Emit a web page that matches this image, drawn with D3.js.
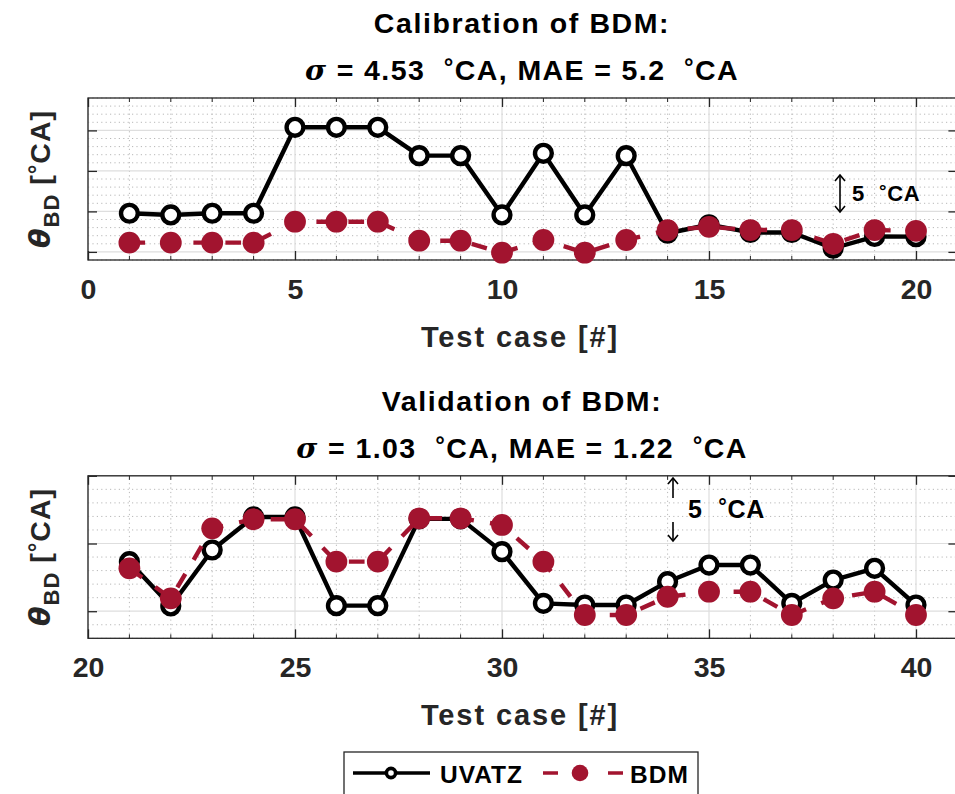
<!DOCTYPE html>
<html>
<head>
<meta charset="utf-8">
<script src="https://cdn.jsdelivr.net/npm/d3@7/dist/d3.min.js"></script>
<style>
body{margin:0;background:#fff}
svg{display:block;font-family:"Liberation Sans",Arial,Helvetica,sans-serif;font-weight:bold}
</style>
</head>
<body>
<svg id="chart" width="955" height="794"></svg>
<script>
// test cases
const casesCal = [1,2,3,4,5,6,7,8,9,10,11,12,13,14,15,16,17,18,19,20];
const casesVal = [21,22,23,24,25,26,27,28,29,30,31,32,33,34,35,36,37,38,39,40];
// burn duration, deg CA (no absolute labels on y)
const uvatzCal = [9.77,9.56,9.77,9.77,20.38,20.38,20.38,16.88,16.88,9.56,17.17,9.56,16.88,7.3,8.35,7.4,7.4,5.45,6.9,6.88];
const bdmCal   = [6.14,6.14,6.14,6.14,8.73,8.73,8.73,6.38,6.38,4.9,6.47,4.9,6.47,7.67,8.1,7.7,7.7,6.0,7.7,7.6];
const uvatzVal = [8.66,5.39,9.52,11.96,11.96,5.41,5.41,11.82,11.82,9.4,5.58,5.46,5.46,7.18,8.41,8.41,5.58,7.3,8.17,5.46];
const bdmVal   = [8.17,5.95,11.12,11.79,11.79,8.66,8.66,11.86,11.86,11.37,8.66,4.72,4.72,6.07,6.44,6.44,4.72,5.95,6.44,4.72];
// axes ticks
const xTicksCal = [0,5,10,15,20];
const xTicksVal = [20,25,30,35,40];
const yTicksCal = [5,10,15,20];
const yTicksVal = [5,10,15];
const seriesNames = ["UVATZ","BDM"];

const RED = "#a2142f", AX = "#262626";
const svg = d3.select("#chart");

function drawPanel(cfg){
  const g = svg.append("g");
  const x = d3.scaleLinear().domain(cfg.xDomain).range([88, 957.4]);
  const y = d3.scaleLinear().domain(cfg.yDomain).range([cfg.bottom, cfg.top]);
  const [x0,x1] = x.range(), [y0,y1] = y.range();

  // minor grid (dotted), every unit
  const xMinor = d3.range(Math.ceil(cfg.xDomain[0]), cfg.xDomain[1]+0.01, 1).filter(v => !cfg.xTicks.includes(v));
  const yMinor = d3.range(Math.ceil(cfg.yDomain[0]), cfg.yDomain[1]+0.01, 1).filter(v => !cfg.yTicks.includes(v));
  g.append("g").selectAll("line").data(xMinor).enter().append("line")
    .attr("x1", d=>x(d)).attr("x2", d=>x(d)).attr("y1", y0).attr("y2", y1)
    .attr("stroke", "#b8b8b8").attr("stroke-width", 1).attr("stroke-dasharray", "1.2 3.2");
  g.append("g").selectAll("line").data(yMinor).enter().append("line")
    .attr("x1", x0).attr("x2", x1).attr("y1", d=>y(d)).attr("y2", d=>y(d))
    .attr("stroke", "#b8b8b8").attr("stroke-width", 1).attr("stroke-dasharray", "1.2 3.2");
  // major grid
  g.append("g").selectAll("line").data(cfg.xTicks).enter().append("line")
    .attr("x1", d=>x(d)).attr("x2", d=>x(d)).attr("y1", y0).attr("y2", y1)
    .attr("stroke", "#dedede").attr("stroke-width", 1.2);
  g.append("g").selectAll("line").data(cfg.yTicks).enter().append("line")
    .attr("x1", x0).attr("x2", x1).attr("y1", d=>y(d)).attr("y2", d=>y(d))
    .attr("stroke", "#dedede").attr("stroke-width", 1.2);

  // box
  g.append("rect").attr("x", x0).attr("y", y1).attr("width", x1-x0).attr("height", y0-y1)
    .attr("fill", "none").attr("stroke", AX).attr("stroke-width", 1.3);

  // x axis (bottom) with inward ticks, plus mirrored top ticks
  const xAxis = d3.axisBottom(x).tickValues(cfg.xTicks).tickSizeInner(-9).tickSizeOuter(0).tickPadding(18);
  const ax = g.append("g").attr("transform", `translate(0,${y0})`).call(xAxis);
  ax.select(".domain").remove();
  ax.selectAll(".tick line").attr("stroke", AX).attr("stroke-width", 1.3);
  ax.selectAll(".tick text").attr("fill", AX).attr("font-size", 28.5).attr("font-weight", "bold")
    .attr("font-family", "Liberation Sans, Arial, sans-serif").attr("dy", "0.72em");
  const axTop = g.append("g").attr("transform", `translate(0,${y1})`)
    .call(d3.axisTop(x).tickValues(cfg.xTicks).tickSizeInner(-9).tickSizeOuter(0).tickFormat(""));
  axTop.select(".domain").remove();
  axTop.selectAll(".tick line").attr("stroke", AX).attr("stroke-width", 1.3);
  // minor x ticks
  [y0, y1].forEach((yy, i) => {
    g.append("g").selectAll("line").data(xMinor).enter().append("line")
      .attr("x1", d=>x(d)).attr("x2", d=>x(d)).attr("y1", yy).attr("y2", i ? yy+4 : yy-4)
      .attr("stroke", AX).attr("stroke-width", 1);
  });
  // y ticks left / right, no labels
  const ayl = g.append("g").attr("transform", `translate(${x0},0)`)
    .call(d3.axisLeft(y).tickValues(cfg.yTicks).tickSizeInner(-9).tickSizeOuter(0).tickFormat(""));
  const ayr = g.append("g").attr("transform", `translate(${x1},0)`)
    .call(d3.axisRight(y).tickValues(cfg.yTicks).tickSizeInner(-9).tickSizeOuter(0).tickFormat(""));
  [ayl, ayr].forEach(a => { a.select(".domain").remove(); a.selectAll(".tick line").attr("stroke", AX).attr("stroke-width", 1.3); });

  // data lines
  const line = d3.line().x(d=>x(d[0])).y(d=>y(d[1]));
  const uv = cfg.cases.map((c,i)=>[c, cfg.uvatz[i]]);
  const bd = cfg.cases.map((c,i)=>[c, cfg.bdm[i]]);
  g.append("path").datum(uv).attr("d", line).attr("fill", "none")
    .attr("stroke", "#000").attr("stroke-width", 4.4).attr("stroke-linejoin", "round");
  g.append("g").selectAll("circle").data(uv).enter().append("circle")
    .attr("cx", d=>x(d[0])).attr("cy", d=>y(d[1])).attr("r", 8.4)
    .attr("fill", "#fff").attr("stroke", "#000").attr("stroke-width", 4.4);
  g.append("path").datum(bd).attr("d", line).attr("fill", "none")
    .attr("stroke", RED).attr("stroke-width", 4.4).attr("stroke-dasharray", "15.7 16.3");
  g.append("g").selectAll("circle").data(bd).enter().append("circle")
    .attr("cx", d=>x(d[0])).attr("cy", d=>y(d[1])).attr("r", 10.9).attr("fill", RED);

  // titles
  const tc = 522;
  g.append("text").attr("x", tc).attr("y", cfg.top - 65).attr("text-anchor", "middle")
    .attr("font-size", 28.5).attr("letter-spacing", 1.6).attr("fill", "#000").text(cfg.title);
  const t2 = g.append("text").attr("x", tc).attr("y", cfg.top - 18).attr("text-anchor", "middle")
    .attr("font-size", 28.5).attr("letter-spacing", 1.4).attr("fill", "#000").attr("xml:space", "preserve");
  t2.append("tspan").attr("font-style", "italic").attr("font-family", "DejaVu Serif, serif").text("σ");
  t2.append("tspan").text(` = ${cfg.sigma}  `);
  t2.append("tspan").attr("dy", -5).attr("font-size", 24).text("°");
  t2.append("tspan").attr("dy", 5).text(`CA, MAE = ${cfg.mae}  `);
  t2.append("tspan").attr("dy", -5).attr("font-size", 24).text("°");
  t2.append("tspan").attr("dy", 5).text("CA");

  // x label
  g.append("text").attr("x", tc - 2).attr("y", y0 + 87).attr("text-anchor", "middle")
    .attr("font-size", 29).attr("letter-spacing", 1.9).attr("fill", AX).text("Test case [#]");

  // y label
  const yl = g.append("text").attr("transform", `translate(50,${(y0+y1)/2}) rotate(-90)`)
    .attr("text-anchor", "middle").attr("font-size", 28.5).attr("letter-spacing", 1).attr("fill", AX);
  yl.append("tspan").attr("font-style", "italic").attr("font-family", "DejaVu Sans, sans-serif").text("θ");
  yl.append("tspan").attr("font-size", 22).attr("dy", 9).text("BD");
  yl.append("tspan").attr("dy", -9).text(" [");
  yl.append("tspan").attr("dy", -5).attr("font-size", 24).text("°");
  yl.append("tspan").attr("dy", 5).text("CA]");

  // 5 deg CA scale annotation
  const a = cfg.ann;
  const ag = g.append("g").attr("stroke", "#000").attr("stroke-width", 1.6).attr("fill", "none");
  a.segs.forEach(s => {
    ag.append("line").attr("x1", a.x).attr("x2", a.x).attr("y1", s[0]).attr("y2", s[1]);
  });
  a.heads.forEach(h => {
    const dir = h[1];
    ag.append("path").attr("d", `M${a.x-5},${h[0]+dir*6}L${a.x},${h[0]}L${a.x+5},${h[0]+dir*6}`);
  });
  const at = g.append("text").attr("x", a.tx).attr("y", a.ty).attr("font-size", a.fs)
    .attr("fill", "#000").attr("letter-spacing", 0.8).attr("xml:space", "preserve");
  at.append("tspan").text("5  ");
  at.append("tspan").attr("dy", -4).attr("font-size", a.fs * 0.85).text("°");
  at.append("tspan").attr("dy", 4).text("CA");
}

drawPanel({
  cases: casesCal, uvatz: uvatzCal, bdm: bdmCal,
  xDomain: [0,21], xTicks: xTicksCal, yDomain: [4,24], yTicks: yTicksCal,
  top: 98, bottom: 260,
  title: "Calibration of BDM:", sigma: "4.53", mae: "5.2",
  ann: {x: 840, segs: [[175,212]], heads: [[175,1],[212,-1]], tx: 852, ty: 201, fs: 22}
});
drawPanel({
  cases: casesVal, uvatz: uvatzVal, bdm: bdmVal,
  xDomain: [20,41], xTicks: xTicksVal, yDomain: [3,15], yTicks: yTicksVal,
  top: 475.8, bottom: 638.3,
  title: "Validation of BDM:", sigma: "1.03", mae: "1.22",
  ann: {x: 673, segs: [[478,498],[522,541]], heads: [[478,1],[541,-1]], tx: 688, ty: 518, fs: 25}
});

// legend
const lg = svg.append("g");
lg.append("rect").attr("x", 344).attr("y", 752).attr("width", 354).attr("height", 50)
  .attr("fill", "#fff").attr("stroke", AX).attr("stroke-width", 1.3);
lg.append("line").attr("x1", 353).attr("x2", 430).attr("y1", 773).attr("y2", 773)
  .attr("stroke", "#000").attr("stroke-width", 3.6);
lg.append("circle").attr("cx", 391).attr("cy", 773).attr("r", 4.6)
  .attr("fill", "#fff").attr("stroke", "#000").attr("stroke-width", 3.6);
lg.append("line").attr("x1", 543).attr("x2", 623).attr("y1", 773).attr("y2", 773)
  .attr("stroke", RED).attr("stroke-width", 3.6).attr("stroke-dasharray", "15 50");
lg.append("circle").attr("cx", 580).attr("cy", 773).attr("r", 8.3).attr("fill", RED);
lg.selectAll("text.lab").data(seriesNames).enter().append("text")
  .attr("x", (d,i) => i ? 630 : 440).attr("y", 783).attr("font-size", 24.5).attr("letter-spacing", 1)
  .attr("fill", "#000").text(d => d);
</script>
</body>
</html>
